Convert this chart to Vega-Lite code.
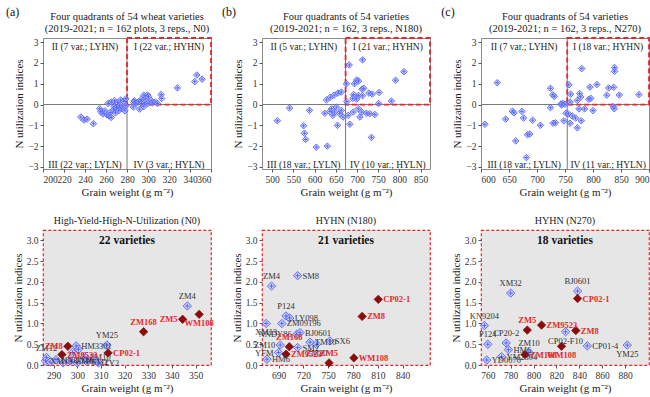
{
"$schema":"https://vega.github.io/schema/vega-lite/v6.json",
"padding":{"left":5,"top":5,"right":2,"bottom":2},
"columns":3,
"bounds":"flush",
"spacing":{"row":61,"column":51},
"config":{
 "font":"Liberation Serif",
 "view":{"stroke":"#8a8a8a"},
 "axis":{"grid":false,"domain":false,"labelOverlap":false,"tickColor":"#555","tickSize":3,"labelFontSize":9.5,"labelColor":"#333","titleFontSize":11,"titleFontWeight":"normal","titleColor":"#222","labelPadding":2,"titlePadding":3},
 "title":{"fontSize":10,"fontWeight":"normal","color":"#222","offset":4,"lineHeight":11.5}
},
"datasets":{
"A":[
{"gw":346.5,"nui":1.42,"name":"ZM4","hl":false,"side":"t"},
{"gw":351.5,"nui":1.22,"name":"WM108","hl":true,"side":"b"},
{"gw":344.5,"nui":1.1,"name":"ZM5","hl":true,"side":"l"},
{"gw":328,"nui":0.8,"name":"ZM168","hl":true,"side":"t"},
{"gw":312.5,"nui":0.48,"name":"YM25","hl":false,"side":"t"},
{"gw":313,"nui":0.29,"name":"CP02-1","hl":true,"side":"r"},
{"gw":296,"nui":0.45,"name":"ZM8","hl":true,"side":"l"},
{"gw":293.5,"nui":0.25,"name":"ZM9523","hl":true,"side":"r"},
{"gw":299.5,"nui":0.46,"name":"HM3301","hl":false,"side":"r"},
{"gw":300.5,"nui":0.38},
{"gw":298,"nui":0.3},
{"gw":303,"nui":0.2,"name":"ZM10","hl":false,"side":"r"},
{"gw":287,"nui":0.18,"name":"ZM12","hl":false,"side":"t"},
{"gw":286.5,"nui":0.1,"name":"XM13","hl":false,"side":"r"},
{"gw":288.5,"nui":0.07},
{"gw":291,"nui":0.13,"name":"NNDY86","hl":false,"side":"r"},
{"gw":294,"nui":0.05},
{"gw":297,"nui":0.1,"name":"HM6","hl":false,"side":"r"},
{"gw":300,"nui":0.05},
{"gw":304,"nui":0.08,"name":"SM2","hl":false,"side":"r"},
{"gw":307,"nui":0.12},
{"gw":309,"nui":0.05,"name":"TY2","hl":false,"side":"r"},
{"gw":262,"nui":0.05},{"gw":265,"nui":0.12},{"gw":268,"nui":0.18},{"gw":271,"nui":0.1},{"gw":274,"nui":0.22},{"gw":277,"nui":0.15},{"gw":279,"nui":0.28},
{"gw":236,"nui":-0.6},{"gw":239,"nui":-0.75},{"gw":242,"nui":-0.7},{"gw":248,"nui":-0.92},{"gw":254,"nui":-0.2},{"gw":255,"nui":-0.35},{"gw":257,"nui":-0.45},{"gw":259,"nui":-0.3},{"gw":261,"nui":-0.5},{"gw":263,"nui":-0.55},{"gw":264,"nui":-0.38},{"gw":265,"nui":-0.62},{"gw":267,"nui":-0.25},{"gw":268,"nui":-0.1},{"gw":269,"nui":-0.4},{"gw":270,"nui":-0.15},{"gw":272,"nui":-0.3},{"gw":273,"nui":-0.05},{"gw":275,"nui":-0.2},{"gw":276,"nui":-0.1},{"gw":278,"nui":-0.3},{"gw":279,"nui":-0.05},
{"gw":286,"nui":-0.12},{"gw":292,"nui":-0.22},{"gw":296,"nui":-0.1}
],
"B":[
{"gw":681.5,"nui":1.9,"name":"ZM4","hl":false,"side":"t"},
{"gw":713,"nui":2.15,"name":"SM8","hl":false,"side":"r"},
{"gw":810.5,"nui":1.58,"name":"CP02-1","hl":true,"side":"r"},
{"gw":791,"nui":1.17,"name":"ZM8","hl":true,"side":"r"},
{"gw":781,"nui":0.17,"name":"WM108","hl":true,"side":"r"},
{"gw":751,"nui":0.05,"name":"ZM5","hl":true,"side":"t"},
{"gw":699,"nui":1.18,"name":"P124","hl":false,"side":"t"},
{"gw":703.5,"nui":1.13,"name":"LY098","hl":false,"side":"r"},
{"gw":694,"nui":1.0,"name":"ZM09196","hl":false,"side":"r"},
{"gw":675,"nui":1.0,"name":"XM13","hl":false,"side":"b"},
{"gw":712,"nui":0.74,"name":"NNDY86","hl":false,"side":"l"},
{"gw":716,"nui":0.78,"name":"BJ0601","hl":false,"side":"r"},
{"gw":703,"nui":0.44,"name":"ZM168","hl":true,"side":"t"},
{"gw":692,"nui":0.48,"name":"ZM10","hl":false,"side":"l"},
{"gw":713,"nui":0.42,"name":"SM2","hl":false,"side":"r"},
{"gw":728,"nui":0.55,"name":"TM10","hl":false,"side":"r"},
{"gw":736,"nui":0.5,"name":"ZM20","hl":false,"side":"b"},
{"gw":752,"nui":0.58,"name":"SX6","hl":false,"side":"r"},
{"gw":699,"nui":0.26,"name":"ZM9523","hl":true,"side":"r"},
{"gw":690,"nui":0.3,"name":"YFM","hl":false,"side":"l"},
{"gw":676,"nui":0.14,"name":"HM6","hl":false,"side":"r"},
{"gw":628,"nui":0.22},{"gw":637,"nui":0.35},{"gw":646,"nui":0.45},{"gw":655,"nui":0.55},{"gw":663,"nui":0.6},
{"gw":512,"nui":-0.78},{"gw":541,"nui":-0.17},{"gw":574,"nui":-1.02},{"gw":576,"nui":-1.38},{"gw":579,"nui":-1.68},{"gw":588,"nui":-0.28},{"gw":604,"nui":-2.05},{"gw":630,"nui":-2.0},{"gw":624,"nui":-0.42},{"gw":636,"nui":-0.33},{"gw":640,"nui":-0.2},{"gw":643,"nui":-0.52},{"gw":647,"nui":-0.36},{"gw":651,"nui":-0.12},{"gw":654,"nui":-1.0},{"gw":659,"nui":-0.44},{"gw":663,"nui":-0.28},{"gw":667,"nui":-0.6},
{"gw":679,"nui":-0.52},{"gw":683,"nui":-0.95},{"gw":691,"nui":-0.36},{"gw":703,"nui":-0.2},{"gw":707,"nui":-0.6},{"gw":711,"nui":-0.36},{"gw":722,"nui":-0.42},{"gw":730,"nui":-0.44},{"gw":742,"nui":-0.48},{"gw":734,"nui":-1.58}
],
"C":[
{"gw":780,"nui":1.73,"name":"XM32","hl":false,"side":"t"},
{"gw":838.5,"nui":1.78,"name":"BJ0601","hl":false,"side":"t"},
{"gw":838.5,"nui":1.6,"name":"CP02-1","hl":true,"side":"r"},
{"gw":757,"nui":0.95,"name":"KN9204","hl":false,"side":"t"},
{"gw":794.5,"nui":0.84,"name":"ZM5","hl":true,"side":"t"},
{"gw":807,"nui":0.96,"name":"ZM9523","hl":true,"side":"r"},
{"gw":837,"nui":0.83,"name":"ZM8","hl":true,"side":"r"},
{"gw":828,"nui":0.8,"name":"CP02-F10","hl":false,"side":"b"},
{"gw":847,"nui":0.46,"name":"CP01-4","hl":false,"side":"r"},
{"gw":882,"nui":0.48,"name":"YM25","hl":false,"side":"b"},
{"gw":824.5,"nui":0.45,"name":"WM108","hl":true,"side":"b"},
{"gw":792.5,"nui":0.25,"name":"ZM168","hl":true,"side":"r"},
{"gw":796,"nui":0.3,"name":"ZM10","hl":false,"side":"t"},
{"gw":778,"nui":0.37,"name":"HM6","hl":false,"side":"r"},
{"gw":776,"nui":0.53,"name":"CP20-2","hl":false,"side":"t"},
{"gw":760,"nui":0.5,"name":"P124","hl":false,"side":"t"},
{"gw":759,"nui":0.12,"name":"YD0070","hl":false,"side":"r"},
{"gw":772,"nui":0.2,"name":"YM2304","hl":false,"side":"r"},
{"gw":629,"nui":1.05},{"gw":724,"nui":0.78},{"gw":728,"nui":0.47},{"gw":731,"nui":0.39},{"gw":743,"nui":0.03},{"gw":746,"nui":0.05},{"gw":750,"nui":0.02},
{"gw":607,"nui":-0.95},{"gw":644,"nui":-0.7},{"gw":656,"nui":-0.32},{"gw":659,"nui":-0.4},{"gw":662,"nui":-1.75},{"gw":676,"nui":-0.65},{"gw":681,"nui":-2.55},{"gw":683,"nui":-1.45},{"gw":687,"nui":-1.42},{"gw":692,"nui":-0.75},{"gw":706,"nui":-1.0},{"gw":724,"nui":-0.15},{"gw":729,"nui":-0.9},{"gw":733,"nui":-0.88},{"gw":744,"nui":-0.02},{"gw":748,"nui":-0.78},{"gw":752,"nui":-0.42},{"gw":673,"nui":-0.33},
{"gw":756,"nui":-0.45},{"gw":759,"nui":-0.9},{"gw":763,"nui":-0.55},{"gw":769,"nui":-0.65},{"gw":772,"nui":-1.12},{"gw":775,"nui":-0.21},{"gw":779,"nui":-0.78},{"gw":785,"nui":-0.21},{"gw":800,"nui":-0.29},{"gw":836,"nui":-0.1},{"gw":838,"nui":-0.2}
]
},
"concat":[
{"width":168,"height":131,
 "title":{"text":["Four quadrants of 54 wheat varieties","(2019-2021; n = 162 plots, 3 reps., N0)"],"offset":-28,"fontSize":10.5},
 "encoding":{"x":{"field":"gw","type":"quantitative","scale":{"domain":[200,360],"nice":false,"zero":false},"axis":{"values":[200,220,240,260,280,300,320,340,360]},"title":"Grain weight (g m⁻²)"},
             "y":{"field":"nui","type":"quantitative","scale":{"domain":[-3.1,3.2],"nice":false,"zero":false},"axis":{"values":[-3,-2,-1,0,1,2,3]},"title":"N utilization indices"}},
 "layer":[
  {"data":{"values":[{"gw":280,"nui":-3.1,"n2":3.2}]},"mark":{"type":"rule","color":"#777","strokeWidth":1},"encoding":{"y2":{"field":"n2"}}},
  {"data":{"values":[{"gw":200,"g2":360,"nui":0}]},"mark":{"type":"rule","color":"#777","strokeWidth":1},"encoding":{"x2":{"field":"g2"}}},
  {"data":{"values":[{"gw":280,"g2":360,"nui":0,"n2":3.2}]},"mark":{"type":"rect","filled":false,"color":"#e8262b","strokeDash":[5,3],"strokeWidth":1.8},"encoding":{"x2":{"field":"g2"},"y2":{"field":"n2"}}},
  {"data":{"name":"A"},"mark":{"type":"point","shape":"M0,-1L1,0L0,1L-1,0Z M-0.55,0L0.55,0 M0,-0.55L0,0.55","filled":true,"fill":"#c5caff","fillOpacity":0.55,"stroke":"#4d5cff","strokeWidth":0.9,"size":42,"opacity":1}},
  {"data":{"values":[{"gw":240,"nui":2.78,"t":"II (7 var.; LYHN)"},{"gw":320,"nui":2.78,"t":"I (22 var.; HYHN)"},{"gw":240,"nui":-2.92,"t":"III (22 var.; LYLN)"},{"gw":320,"nui":-2.92,"t":"IV (3 var.; HYLN)"}]},
   "mark":{"type":"text","fontSize":9.5,"color":"#222"},"encoding":{"text":{"field":"t"}}},
  {"data":{"values":[{"gw":171,"nui":4.45,"t":"(a)"}]},"mark":{"type":"text","fontSize":12,"color":"#111"},"encoding":{"text":{"field":"t"}}}
 ]},
{"width":168,"height":131,
 "title":{"text":["Four quadrants of 54 varieties","(2019-2021; n = 162, 3 reps., N180)"],"offset":-28,"fontSize":10.5},
 "encoding":{"x":{"field":"gw","type":"quantitative","scale":{"domain":[476,872],"nice":false,"zero":false},"axis":{"values":[500,550,600,650,700,750,800,850]},"title":"Grain weight (g m⁻²)"},
             "y":{"field":"nui","type":"quantitative","scale":{"domain":[-3.1,3.2],"nice":false,"zero":false},"axis":{"values":[-3,-2,-1,0,1,2,3]},"title":"N utilization indices"}},
 "layer":[
  {"data":{"values":[{"gw":673,"nui":-3.1,"n2":3.2}]},"mark":{"type":"rule","color":"#777","strokeWidth":1},"encoding":{"y2":{"field":"n2"}}},
  {"data":{"values":[{"gw":476,"g2":872,"nui":0}]},"mark":{"type":"rule","color":"#777","strokeWidth":1},"encoding":{"x2":{"field":"g2"}}},
  {"data":{"values":[{"gw":673,"g2":872,"nui":0,"n2":3.2}]},"mark":{"type":"rect","filled":false,"color":"#e8262b","strokeDash":[5,3],"strokeWidth":1.8},"encoding":{"x2":{"field":"g2"},"y2":{"field":"n2"}}},
  {"data":{"name":"B"},"mark":{"type":"point","shape":"M0,-1L1,0L0,1L-1,0Z M-0.55,0L0.55,0 M0,-0.55L0,0.55","filled":true,"fill":"#c5caff","fillOpacity":0.55,"stroke":"#4d5cff","strokeWidth":0.9,"size":42,"opacity":1}},
  {"data":{"values":[{"gw":574.5,"nui":2.78,"t":"II (5 var.; LYHN)"},{"gw":772.5,"nui":2.78,"t":"I (21 var.; HYHN)"},{"gw":574.5,"nui":-2.92,"t":"III (18 var.; LYLN)"},{"gw":772.5,"nui":-2.92,"t":"IV (10 var.; HYLN)"}]},
   "mark":{"type":"text","fontSize":9.5,"color":"#222"},"encoding":{"text":{"field":"t"}}},
  {"data":{"values":[{"gw":398,"nui":4.45,"t":"(b)"}]},"mark":{"type":"text","fontSize":12,"color":"#111"},"encoding":{"text":{"field":"t"}}}
 ]},
{"width":168,"height":131,
 "title":{"text":["Four quadrants of 54 varieties","(2019-2021; n = 162, 3 reps., N270)"],"offset":-28,"fontSize":10.5},
 "encoding":{"x":{"field":"gw","type":"quantitative","scale":{"domain":[600,900],"nice":false,"zero":false},"axis":{"values":[600,650,700,750,800,850,900]},"title":"Grain weight (g m⁻²)"},
             "y":{"field":"nui","type":"quantitative","scale":{"domain":[-3.1,3.2],"nice":false,"zero":false},"axis":{"values":[-3,-2,-1,0,1,2,3]},"title":"N utilization indices"}},
 "layer":[
  {"data":{"values":[{"gw":754,"nui":-3.1,"n2":3.2}]},"mark":{"type":"rule","color":"#777","strokeWidth":1},"encoding":{"y2":{"field":"n2"}}},
  {"data":{"values":[{"gw":600,"g2":900,"nui":0}]},"mark":{"type":"rule","color":"#777","strokeWidth":1},"encoding":{"x2":{"field":"g2"}}},
  {"data":{"values":[{"gw":754,"g2":900,"nui":0,"n2":3.2}]},"mark":{"type":"rect","filled":false,"color":"#e8262b","strokeDash":[5,3],"strokeWidth":1.8},"encoding":{"x2":{"field":"g2"},"y2":{"field":"n2"}}},
  {"data":{"name":"C"},"mark":{"type":"point","shape":"M0,-1L1,0L0,1L-1,0Z M-0.55,0L0.55,0 M0,-0.55L0,0.55","filled":true,"fill":"#c5caff","fillOpacity":0.55,"stroke":"#4d5cff","strokeWidth":0.9,"size":42,"opacity":1}},
  {"data":{"values":[{"gw":677,"nui":2.78,"t":"II (7 var.; LYHN)"},{"gw":827,"nui":2.78,"t":"I (18 var.; HYHN)"},{"gw":677,"nui":-2.92,"t":"III (18 var.; LYLN)"},{"gw":827,"nui":-2.92,"t":"IV (11 var.; HYLN)"}]},
   "mark":{"type":"text","fontSize":9.5,"color":"#222"},"encoding":{"text":{"field":"t"}}},
  {"data":{"values":[{"gw":541,"nui":4.45,"t":"(c)"}]},"mark":{"type":"text","fontSize":12,"color":"#111"},"encoding":{"text":{"field":"t"}}}
 ]},
{"width":168,"height":135,
 "title":{"text":"High-Yield-High-N-Utilization (N0)"},
 "view":{"fill":"#e6e6e6","stroke":"#e8262b","strokeDash":[3,2],"strokeWidth":1.2},
 "encoding":{"x":{"field":"gw","type":"quantitative","scale":{"domain":[285.5,356.5],"nice":false,"zero":false},"axis":{"values":[290,300,310,320,330,340,350]},"title":"Grain weight (g m⁻²)"},
             "y":{"field":"nui","type":"quantitative","scale":{"domain":[0,3.25],"nice":false,"zero":false},"axis":{"values":[0,0.5,1,1.5,2,2.5,3],"format":".1f"},"title":"N utilization indices"}},
 "layer":[
  {"data":{"name":"A"},"transform":[{"filter":"datum.gw > 280 && datum.nui > 0 && datum.hl !== true"}],
   "mark":{"type":"point","shape":"M0,-1L1,0L0,1L-1,0Z M-0.55,0L0.55,0 M0,-0.55L0,0.55","filled":true,"fill":"#c5caff","fillOpacity":0.6,"stroke":"#4d5cff","strokeWidth":0.9,"size":70,"opacity":1}},
  {"data":{"name":"A"},"transform":[{"filter":"datum.hl === true"}],
   "mark":{"type":"point","shape":"M0,-1L1,0L0,1L-1,0Z","filled":true,"fill":"#8b0c0c","stroke":"#8b0c0c","strokeWidth":0.8,"size":70,"opacity":1}},
  {"data":{"name":"A"},"transform":[{"filter":"datum.side === 'r' && datum.hl !== true"}],"mark":{"type":"text","align":"left","baseline":"middle","dx":5,"fontSize":8.5,"color":"#333"},"encoding":{"text":{"field":"name"}}},
  {"data":{"name":"A"},"transform":[{"filter":"datum.side === 'l' && datum.hl !== true"}],"mark":{"type":"text","align":"right","baseline":"middle","dx":-5,"fontSize":8.5,"color":"#333"},"encoding":{"text":{"field":"name"}}},
  {"data":{"name":"A"},"transform":[{"filter":"datum.side === 't' && datum.hl !== true"}],"mark":{"type":"text","align":"center","baseline":"bottom","dy":-5,"fontSize":8.5,"color":"#333"},"encoding":{"text":{"field":"name"}}},
  {"data":{"name":"A"},"transform":[{"filter":"datum.side === 'b' && datum.hl !== true"}],"mark":{"type":"text","align":"center","baseline":"top","dy":5,"fontSize":8.5,"color":"#333"},"encoding":{"text":{"field":"name"}}},
  {"data":{"name":"A"},"transform":[{"filter":"datum.side === 'r' && datum.hl === true"}],"mark":{"type":"text","align":"left","baseline":"middle","dx":5,"fontSize":8.5,"fontWeight":"bold","color":"#e8262b"},"encoding":{"text":{"field":"name"}}},
  {"data":{"name":"A"},"transform":[{"filter":"datum.side === 'l' && datum.hl === true"}],"mark":{"type":"text","align":"right","baseline":"middle","dx":-5,"fontSize":8.5,"fontWeight":"bold","color":"#e8262b"},"encoding":{"text":{"field":"name"}}},
  {"data":{"name":"A"},"transform":[{"filter":"datum.side === 't' && datum.hl === true"}],"mark":{"type":"text","align":"center","baseline":"bottom","dy":-5,"fontSize":8.5,"fontWeight":"bold","color":"#e8262b"},"encoding":{"text":{"field":"name"}}},
  {"data":{"name":"A"},"transform":[{"filter":"datum.side === 'b' && datum.hl === true"}],"mark":{"type":"text","align":"center","baseline":"top","dy":5,"fontSize":8.5,"fontWeight":"bold","color":"#e8262b"},"encoding":{"text":{"field":"name"}}},
  {"data":{"values":[{"gw":321,"nui":2.99,"t":"22 varieties"}]},"mark":{"type":"text","fontSize":11.5,"fontWeight":"bold","color":"#111"},"encoding":{"text":{"field":"t"}}}
 ]},
{"width":168,"height":135,
 "title":{"text":"HYHN (N180)"},
 "view":{"fill":"#e6e6e6","stroke":"#e8262b","strokeDash":[3,2],"strokeWidth":1.2},
 "encoding":{"x":{"field":"gw","type":"quantitative","scale":{"domain":[670,873],"nice":false,"zero":false},"axis":{"values":[690,720,750,780,810,840]},"title":"Grain weight (g m⁻²)"},
             "y":{"field":"nui","type":"quantitative","scale":{"domain":[0,3.25],"nice":false,"zero":false},"axis":{"values":[0,0.5,1,1.5,2,2.5,3],"format":".1f"},"title":"N utilization indices"}},
 "layer":[
  {"data":{"name":"B"},"transform":[{"filter":"datum.gw > 673 && datum.nui > 0 && datum.hl !== true"}],
   "mark":{"type":"point","shape":"M0,-1L1,0L0,1L-1,0Z M-0.55,0L0.55,0 M0,-0.55L0,0.55","filled":true,"fill":"#c5caff","fillOpacity":0.6,"stroke":"#4d5cff","strokeWidth":0.9,"size":70,"opacity":1}},
  {"data":{"name":"B"},"transform":[{"filter":"datum.hl === true"}],
   "mark":{"type":"point","shape":"M0,-1L1,0L0,1L-1,0Z","filled":true,"fill":"#8b0c0c","stroke":"#8b0c0c","strokeWidth":0.8,"size":70,"opacity":1}},
  {"data":{"name":"B"},"transform":[{"filter":"datum.side === 'r' && datum.hl !== true"}],"mark":{"type":"text","align":"left","baseline":"middle","dx":5,"fontSize":8.5,"color":"#333"},"encoding":{"text":{"field":"name"}}},
  {"data":{"name":"B"},"transform":[{"filter":"datum.side === 'l' && datum.hl !== true"}],"mark":{"type":"text","align":"right","baseline":"middle","dx":-5,"fontSize":8.5,"color":"#333"},"encoding":{"text":{"field":"name"}}},
  {"data":{"name":"B"},"transform":[{"filter":"datum.side === 't' && datum.hl !== true"}],"mark":{"type":"text","align":"center","baseline":"bottom","dy":-5,"fontSize":8.5,"color":"#333"},"encoding":{"text":{"field":"name"}}},
  {"data":{"name":"B"},"transform":[{"filter":"datum.side === 'b' && datum.hl !== true"}],"mark":{"type":"text","align":"center","baseline":"top","dy":5,"fontSize":8.5,"color":"#333"},"encoding":{"text":{"field":"name"}}},
  {"data":{"name":"B"},"transform":[{"filter":"datum.side === 'r' && datum.hl === true"}],"mark":{"type":"text","align":"left","baseline":"middle","dx":5,"fontSize":8.5,"fontWeight":"bold","color":"#e8262b"},"encoding":{"text":{"field":"name"}}},
  {"data":{"name":"B"},"transform":[{"filter":"datum.side === 'l' && datum.hl === true"}],"mark":{"type":"text","align":"right","baseline":"middle","dx":-5,"fontSize":8.5,"fontWeight":"bold","color":"#e8262b"},"encoding":{"text":{"field":"name"}}},
  {"data":{"name":"B"},"transform":[{"filter":"datum.side === 't' && datum.hl === true"}],"mark":{"type":"text","align":"center","baseline":"bottom","dy":-5,"fontSize":8.5,"fontWeight":"bold","color":"#e8262b"},"encoding":{"text":{"field":"name"}}},
  {"data":{"name":"B"},"transform":[{"filter":"datum.side === 'b' && datum.hl === true"}],"mark":{"type":"text","align":"center","baseline":"top","dy":5,"fontSize":8.5,"fontWeight":"bold","color":"#e8262b"},"encoding":{"text":{"field":"name"}}},
  {"data":{"values":[{"gw":771.5,"nui":2.99,"t":"21 varieties"}]},"mark":{"type":"text","fontSize":11.5,"fontWeight":"bold","color":"#111"},"encoding":{"text":{"field":"t"}}}
 ]},
{"width":168,"height":135,
 "title":{"text":"HYHN (N270)"},
 "view":{"fill":"#e6e6e6","stroke":"#e8262b","strokeDash":[3,2],"strokeWidth":1.2},
 "encoding":{"x":{"field":"gw","type":"quantitative","scale":{"domain":[754,901],"nice":false,"zero":false},"axis":{"values":[760,780,800,820,840,860,880]},"title":"Grain weight (g m⁻²)"},
             "y":{"field":"nui","type":"quantitative","scale":{"domain":[0,3.25],"nice":false,"zero":false},"axis":{"values":[0,0.5,1,1.5,2,2.5,3],"format":".1f"},"title":"N utilization indices"}},
 "layer":[
  {"data":{"name":"C"},"transform":[{"filter":"datum.gw > 754 && datum.nui > 0 && datum.hl !== true"}],
   "mark":{"type":"point","shape":"M0,-1L1,0L0,1L-1,0Z M-0.55,0L0.55,0 M0,-0.55L0,0.55","filled":true,"fill":"#c5caff","fillOpacity":0.6,"stroke":"#4d5cff","strokeWidth":0.9,"size":70,"opacity":1}},
  {"data":{"name":"C"},"transform":[{"filter":"datum.hl === true"}],
   "mark":{"type":"point","shape":"M0,-1L1,0L0,1L-1,0Z","filled":true,"fill":"#8b0c0c","stroke":"#8b0c0c","strokeWidth":0.8,"size":70,"opacity":1}},
  {"data":{"name":"C"},"transform":[{"filter":"datum.side === 'r' && datum.hl !== true"}],"mark":{"type":"text","align":"left","baseline":"middle","dx":5,"fontSize":8.5,"color":"#333"},"encoding":{"text":{"field":"name"}}},
  {"data":{"name":"C"},"transform":[{"filter":"datum.side === 'l' && datum.hl !== true"}],"mark":{"type":"text","align":"right","baseline":"middle","dx":-5,"fontSize":8.5,"color":"#333"},"encoding":{"text":{"field":"name"}}},
  {"data":{"name":"C"},"transform":[{"filter":"datum.side === 't' && datum.hl !== true"}],"mark":{"type":"text","align":"center","baseline":"bottom","dy":-5,"fontSize":8.5,"color":"#333"},"encoding":{"text":{"field":"name"}}},
  {"data":{"name":"C"},"transform":[{"filter":"datum.side === 'b' && datum.hl !== true"}],"mark":{"type":"text","align":"center","baseline":"top","dy":5,"fontSize":8.5,"color":"#333"},"encoding":{"text":{"field":"name"}}},
  {"data":{"name":"C"},"transform":[{"filter":"datum.side === 'r' && datum.hl === true"}],"mark":{"type":"text","align":"left","baseline":"middle","dx":5,"fontSize":8.5,"fontWeight":"bold","color":"#e8262b"},"encoding":{"text":{"field":"name"}}},
  {"data":{"name":"C"},"transform":[{"filter":"datum.side === 'l' && datum.hl === true"}],"mark":{"type":"text","align":"right","baseline":"middle","dx":-5,"fontSize":8.5,"fontWeight":"bold","color":"#e8262b"},"encoding":{"text":{"field":"name"}}},
  {"data":{"name":"C"},"transform":[{"filter":"datum.side === 't' && datum.hl === true"}],"mark":{"type":"text","align":"center","baseline":"bottom","dy":-5,"fontSize":8.5,"fontWeight":"bold","color":"#e8262b"},"encoding":{"text":{"field":"name"}}},
  {"data":{"name":"C"},"transform":[{"filter":"datum.side === 'b' && datum.hl === true"}],"mark":{"type":"text","align":"center","baseline":"top","dy":5,"fontSize":8.5,"fontWeight":"bold","color":"#e8262b"},"encoding":{"text":{"field":"name"}}},
  {"data":{"values":[{"gw":827.5,"nui":2.99,"t":"18 varieties"}]},"mark":{"type":"text","fontSize":11.5,"fontWeight":"bold","color":"#111"},"encoding":{"text":{"field":"t"}}}
 ]}
]
}
